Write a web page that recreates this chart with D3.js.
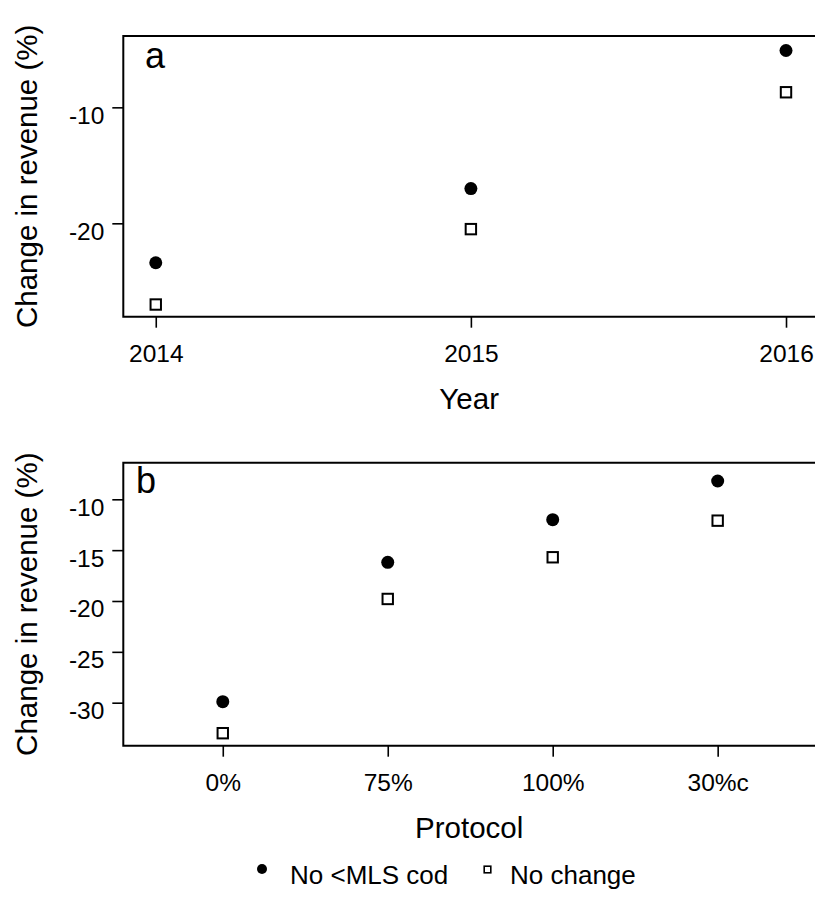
<!DOCTYPE html>
<html>
<head>
<meta charset="utf-8">
<script src="https://cdn.jsdelivr.net/npm/d3@7"></script>
<style>
  html, body { margin: 0; padding: 0; background: #fff; }
  svg { display: block; font-family: "Liberation Sans", Arial, sans-serif; }
</style>
</head>
<body>
<svg id="chart" width="815" height="902"></svg>
<script>
// ---- data ----
const years = [2014, 2015, 2016];
const revA_noMLS = [-23.4, -17.0, -5.1];
const revA_noChange = [-27.0, -20.5, -8.7];
const yTicksA = [-10, -20];

const protocols = ["0%", "75%", "100%", "30%c"];
const revB_noMLS = [-29.9, -16.2, -12.0, -8.2];
const revB_noChange = [-33.0, -19.8, -15.7, -12.1];
const yTicksB = [-10, -15, -20, -25, -30];

const seriesNames = ["No <MLS cod", "No change"];

// ---- layout ----
const svg = d3.select("#chart");
const left = 123.3, right = 816;
const tickFont = 24.5, titleFont = 29.5, panelFont = 36, legendFont = 26;

function drawPanel(opts) {
  const { top, bottom, x, y, xVals, xLabels, s1, s2, yTicks, xTitle, letter, letterX, letterY } = opts;
  const g = svg.append("g");

  // frame
  g.append("path")
    .attr("d", `M${right},${top}H${left}V${bottom}H${right}`)
    .attr("fill", "none").attr("stroke", "#000").attr("stroke-width", 2);

  // y axis
  const ya = g.append("g").attr("transform", `translate(${left},0)`)
    .call(d3.axisLeft(y).tickValues(yTicks).tickSize(11).tickPadding(8).tickFormat(d => String(d)));
  ya.select(".domain").remove();
  ya.selectAll(".tick line").attr("stroke", "#000").attr("stroke-width", 1.6);
  ya.selectAll(".tick text").attr("dy", 16).attr("font-size", tickFont)
    .attr("font-family", "Liberation Sans, Arial, sans-serif").attr("fill", "#000");

  // x axis
  const xa = g.append("g").attr("transform", `translate(0,${bottom})`)
    .call(d3.axisBottom(x).tickValues(xVals).tickSize(11).tickFormat((d, i) => xLabels[i]));
  xa.select(".domain").remove();
  xa.selectAll(".tick line").attr("stroke", "#000").attr("stroke-width", 1.6);
  xa.selectAll(".tick text").attr("y", 0).attr("dy", 45).attr("font-size", tickFont)
    .attr("font-family", "Liberation Sans, Arial, sans-serif").attr("fill", "#000");

  // axis titles
  g.append("text").attr("x", (left + 815) / 2).attr("y", bottom + 92)
    .attr("text-anchor", "middle").attr("font-size", titleFont).text(xTitle);
  g.append("text")
    .attr("transform", `translate(37,${(top + bottom) / 2}) rotate(-90)`)
    .attr("text-anchor", "middle").attr("font-size", titleFont).text("Change in revenue (%)");

  // panel letter
  g.append("text").attr("x", letterX).attr("y", letterY).attr("font-size", panelFont).text(letter);

  // points
  g.selectAll("circle.s1").data(s1).join("circle")
    .attr("cx", (d, i) => x(xVals[i])).attr("cy", d => y(d)).attr("r", 6.5).attr("fill", "#000");
  g.selectAll("rect.s2").data(s2).join("rect")
    .attr("x", (d, i) => x(xVals[i]) - 5.2).attr("y", d => y(d) - 5.2)
    .attr("width", 10.4).attr("height", 10.4)
    .attr("fill", "none").attr("stroke", "#000").attr("stroke-width", 2);
}

// Panel a
const xA = d3.scaleLinear().domain([2013.897, 2016.092]).range([left, 815]);
const yA = d3.scaleLinear().domain([-28.05, -3.85]).range([316.7, 36]);
drawPanel({
  top: 36, bottom: 316.7, x: xA, y: yA, xVals: years, xLabels: years.map(String),
  s1: revA_noMLS, s2: revA_noChange, yTicks: yTicksA, xTitle: "Year",
  letter: "a", letterX: 145, letterY: 67.5
});

// Panel b
const idx = protocols.map((d, i) => i + 1);
const xB = d3.scaleLinear().domain([0.397, 4.59]).range([left, 815]);
const yB = d3.scaleLinear().domain([-34.23, -6.4]).range([745.7, 462.7]);
drawPanel({
  top: 462.7, bottom: 745.7, x: xB, y: yB, xVals: idx, xLabels: protocols,
  s1: revB_noMLS, s2: revB_noChange, yTicks: yTicksB, xTitle: "Protocol",
  letter: "b", letterX: 136, letterY: 493
});

// Legend
const lg = svg.append("g");
lg.append("circle").attr("cx", 262).attr("cy", 869).attr("r", 5).attr("fill", "#000");
lg.append("text").attr("x", 290).attr("y", 884).attr("font-size", legendFont).text(seriesNames[0]);
lg.append("rect").attr("x", 484.2).attr("y", 866.2).attr("width", 6.6).attr("height", 6.6)
  .attr("fill", "none").attr("stroke", "#000").attr("stroke-width", 1.6);
lg.append("text").attr("x", 510).attr("y", 884).attr("font-size", legendFont).text(seriesNames[1]);
</script>
</body>
</html>
